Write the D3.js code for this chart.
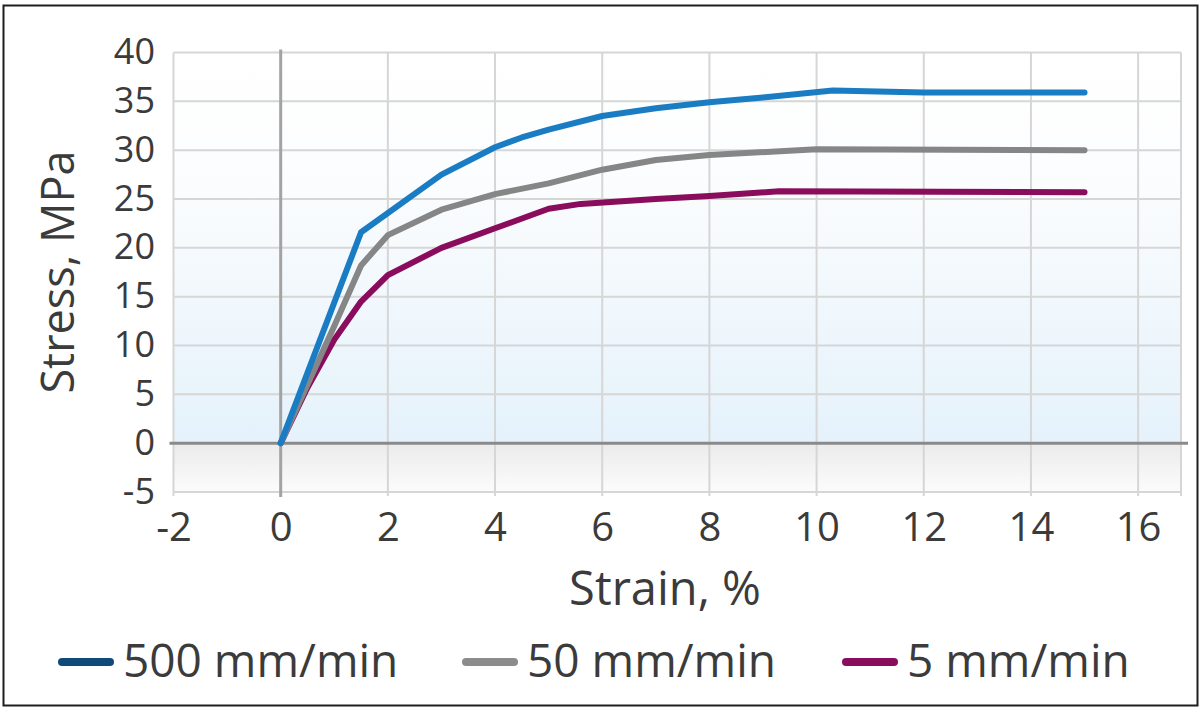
<!DOCTYPE html>
<html>
<head>
<meta charset="utf-8">
<script src="https://cdn.jsdelivr.net/npm/d3@7"></script>
<style>
  html, body { margin: 0; padding: 0; background: #fff; }
  svg text { font-family: "Open Sans", "Noto Sans", sans-serif; fill: #3b3b3b; }
</style>
</head>
<body>
<div id="wrapper"></div>
<script>
// DATA
const seriesNames = ["500 mm/min", "50 mm/min", "5 mm/min"]

const strain500 = [0, 1.5, 3, 4, 4.5, 5, 6, 7, 8, 9, 10.3, 12, 15]
const stress500 = [0, 21.6, 27.5, 30.3, 31.3, 32.1, 33.5, 34.3, 34.9, 35.4, 36.1, 35.9, 35.9]

const strain50 = [0, 1, 1.5, 2, 3, 4, 5, 6, 7, 8, 10, 15]
const stress50 = [0, 12, 18.2, 21.3, 23.9, 25.5, 26.6, 28.0, 29.0, 29.5, 30.1, 30.0]

const strain5 = [0, 0.5, 1, 1.5, 2, 3, 4, 5, 5.6, 7, 8, 9.3, 15]
const stress5 = [0, 5.7, 10.6, 14.5, 17.2, 20.0, 22.0, 24.0, 24.5, 25.0, 25.3, 25.8, 25.7]

const xTicks = [-2, 0, 2, 4, 6, 8, 10, 12, 14, 16]
const yTicks = [-5, 0, 5, 10, 15, 20, 25, 30, 35, 40]

const lineColors = ["#1a7dc3", "#868686", "#8a0c5c"]
const legendColors = ["#0f4a78", "#8c8c8c", "#8a0c5c"]

function drawChart() {

    // ACCESSORS
    const xAccessor = d => d[0]
    const yAccessor = d => d[1]

    const series = [
        d3.zip(strain500, stress500),
        d3.zip(strain50, stress50),
        d3.zip(strain5, stress5)
    ]

    let dimensions = {
        width: 1203,
        height: 707,
        plotLeft: 173.5,
        plotRight: 1181,
        plotTop: 52.5,
        plotBottom: 492
    }

    const wrapper = d3.select('#wrapper')
        .append('svg')
        .attr('width', dimensions.width)
        .attr('height', dimensions.height)

    // SCALES
    const xScale = d3.scaleLinear()
        .domain([-2, 16.8])
        .range([dimensions.plotLeft, dimensions.plotRight])

    const yScale = d3.scaleLinear()
        .domain([-5, 40])
        .range([dimensions.plotBottom, dimensions.plotTop])

    // background gradients: blue above zero, grey below
    const defs = wrapper.append('defs')
    const blueGrad = defs.append('linearGradient')
        .attr('id', 'blueGrad').attr('x1', 0).attr('x2', 0).attr('y1', 0).attr('y2', 1)
    blueGrad.append('stop').attr('offset', '0%').attr('stop-color', '#ffffff')
    blueGrad.append('stop').attr('offset', '30%').attr('stop-color', '#fcfdfe')
    blueGrad.append('stop').attr('offset', '100%').attr('stop-color', '#e5f2fb')

    const greyGrad = defs.append('linearGradient')
        .attr('id', 'greyGrad').attr('x1', 0).attr('x2', 0).attr('y1', 0).attr('y2', 1)
    greyGrad.append('stop').attr('offset', '0%').attr('stop-color', '#ebebeb')
    greyGrad.append('stop').attr('offset', '100%').attr('stop-color', '#fcfcfc')

    const bounds = wrapper.append('g')

    bounds.append('rect')
        .attr('x', xScale(-2))
        .attr('y', yScale(40))
        .attr('width', xScale(16.8) - xScale(-2))
        .attr('height', yScale(0) - yScale(40))
        .attr('fill', 'url(#blueGrad)')

    bounds.append('rect')
        .attr('x', xScale(-2))
        .attr('y', yScale(0))
        .attr('width', xScale(16.8) - xScale(-2))
        .attr('height', yScale(-5) - yScale(0))
        .attr('fill', 'url(#greyGrad)')

    // GRIDLINES
    bounds.append('g')
        .selectAll('line')
        .data(yTicks.filter(d => d != 0))
        .enter().append('line')
        .attr('x1', xScale(-2))
        .attr('x2', xScale(16.8))
        .attr('y1', d => yScale(d))
        .attr('y2', d => yScale(d))
        .attr('stroke', '#d6d6d6')
        .attr('stroke-width', 2)

    bounds.append('g')
        .selectAll('line')
        .data(xTicks.filter(d => d != 0).concat([16.8]))
        .enter().append('line')
        .attr('x1', d => xScale(d))
        .attr('x2', d => xScale(d))
        .attr('y1', yScale(40))
        .attr('y2', yScale(-5) + 4)
        .attr('stroke', '#d6d6d6')
        .attr('stroke-width', 2)

    // zero axes, darker
    bounds.append('line')
        .attr('x1', xScale(0)).attr('x2', xScale(0))
        .attr('y1', yScale(40) - 3).attr('y2', yScale(-5) + 5)
        .attr('stroke', '#a3a3a3')
        .attr('stroke-width', 3)

    bounds.append('line')
        .attr('x1', xScale(-2) - 4).attr('x2', xScale(16.8) + 7)
        .attr('y1', yScale(0)).attr('y2', yScale(0))
        .attr('stroke', '#8a8a8a')
        .attr('stroke-width', 3)

    // AXES (labels only), plain hyphen for negatives
    const plainFormat = d => String(d)

    const xAxisGenerator = d3.axisBottom(xScale)
        .tickValues(xTicks)
        .tickFormat(plainFormat)
        .tickSize(0)
        .tickPadding(0)

    const xAxis = bounds.append('g')
        .attr('transform', `translate(0, ${dimensions.plotBottom})`)
        .call(xAxisGenerator)
    xAxis.select('.domain').remove()
    xAxis.selectAll('text')
        .attr('y', 49)
        .attr('dy', 0)
        .style('font-size', '40px')
        .style('fill', '#3b3b3b')

    const yAxisGenerator = d3.axisLeft(yScale)
        .tickValues(yTicks)
        .tickFormat(plainFormat)
        .tickSize(0)
        .tickPadding(0)

    const yAxis = bounds.append('g')
        .attr('transform', `translate(155, 0)`)
        .call(yAxisGenerator)
    yAxis.select('.domain').remove()
    yAxis.selectAll('text')
        .attr('x', 0)
        .attr('dy', 11)
        .style('font-size', '36px')
        .style('fill', '#3b3b3b')

    // axis titles
    bounds.append('text')
        .attr('x', 665)
        .attr('y', 605)
        .attr('text-anchor', 'middle')
        .style('font-size', '47px')
        .text('Strain, %')

    bounds.append('text')
        .attr('transform', `translate(74, 272) rotate(-90)`)
        .attr('text-anchor', 'middle')
        .style('font-size', '45px')
        .text('Stress, MPa')

    // LINES
    const lineGenerator = d3.line()
        .x(d => xScale(xAccessor(d)))
        .y(d => yScale(yAccessor(d)))

    bounds.append('g')
        .selectAll('path')
        .data(series.slice().reverse())
        .enter().append('path')
        .attr('d', lineGenerator)
        .attr('fill', 'none')
        .attr('stroke', (d, i) => lineColors[2 - i])
        .attr('stroke-width', 6)
        .attr('stroke-linejoin', 'round')
        .attr('stroke-linecap', 'round')

    // LEGEND
    const legendX = [62, 466, 846]
    const legend = bounds.append('g')
        .selectAll('g')
        .data(seriesNames)
        .enter().append('g')
        .attr('transform', (d, i) => `translate(${legendX[i]}, 662)`)

    legend.append('line')
        .attr('x1', 0).attr('x2', 48)
        .attr('stroke', (d, i) => legendColors[i])
        .attr('stroke-width', 8)
        .attr('stroke-linecap', 'round')

    legend.append('text')
        .attr('x', 61)
        .attr('y', 15)
        .style('font-size', '46px')
        .text(d => d)

    // outer frame
    wrapper.append('rect')
        .attr('x', 3.5).attr('y', 5.5)
        .attr('width', 1194).attr('height', 700)
        .attr('fill', 'none')
        .attr('stroke', '#1e1e1e')
        .attr('stroke-width', 2)
}
drawChart()
</script>
</body>
</html>
